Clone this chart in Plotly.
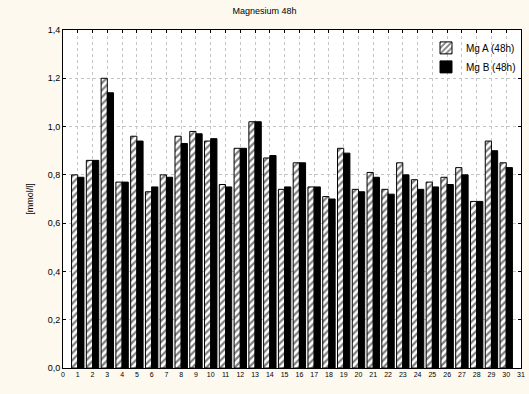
import plotly.graph_objects as go

# Magnesium concentration after 48h for samples 1..30, two methods
samples = list(range(1, 31))
mg_a = [0.80, 0.86, 1.20, 0.77, 0.96, 0.73, 0.80, 0.96, 0.98, 0.94,
        0.76, 0.91, 1.02, 0.87, 0.74, 0.85, 0.75, 0.71, 0.91, 0.74,
        0.81, 0.74, 0.85, 0.78, 0.77, 0.79, 0.83, 0.69, 0.94, 0.85]
mg_b = [0.79, 0.86, 1.14, 0.77, 0.94, 0.75, 0.79, 0.93, 0.97, 0.95,
        0.75, 0.91, 1.02, 0.88, 0.75, 0.85, 0.75, 0.70, 0.89, 0.73,
        0.79, 0.72, 0.80, 0.74, 0.75, 0.76, 0.80, 0.69, 0.90, 0.83]
series_names = ["Mg A (48h)", "Mg B (48h)"]
x_ticks = list(range(0, 32))
y_ticks = [0.0, 0.2, 0.4, 0.6, 0.8, 1.0, 1.2, 1.4]

FONT = "Arial, Liberation Sans, sans-serif"

fig = go.Figure()
fig.add_trace(go.Bar(
    x=samples, y=mg_a, name=series_names[0],
    marker=dict(color="white", line=dict(color="black", width=1),
                pattern=dict(shape="/", fgcolor="black", bgcolor="white",
                             size=5, solidity=0.45)),
))
fig.add_trace(go.Bar(
    x=samples, y=mg_b, name=series_names[1],
    marker=dict(color="black", line=dict(color="black", width=1)),
))

fig.update_layout(
    width=529, height=394,
    margin=dict(l=63, r=4, t=30, b=26),
    paper_bgcolor="#fdf9ef",
    plot_bgcolor="white",
    separators=",.",
    barmode="group", bargap=0.16, bargroupgap=0,
    font=dict(family=FONT, color="black"),
    title=dict(text="Magnesium 48h", x=0.5, xanchor="center", y=0.972,
               yanchor="middle", font=dict(size=9, family=FONT)),
    legend=dict(x=1.0, xanchor="right", y=0.99, yanchor="top",
                bgcolor="rgba(255,255,255,0)", borderwidth=0,
                font=dict(size=10, family=FONT), itemwidth=30,
                tracegroupgap=0),
    showlegend=True,
)
fig.update_xaxes(
    range=[0, 31], tickmode="array", tickvals=x_ticks,
    ticktext=[str(v) for v in x_ticks],
    tickfont=dict(size=7), ticks="inside", ticklen=3, tickcolor="black",
    showline=True, linecolor="black", linewidth=1, mirror="ticks",
    showgrid=True, gridcolor="#c4c4c4", griddash="dot", gridwidth=1,
    zeroline=False,
)
fig.update_yaxes(
    range=[0, 1.4], tickmode="array", tickvals=y_ticks, tickformat=".1f",
    tickfont=dict(size=9), ticks="inside", ticklen=3, tickcolor="black",
    showline=True, linecolor="black", linewidth=1, mirror="ticks",
    showgrid=True, gridcolor="#c4c4c4", griddash="dot", gridwidth=1,
    zeroline=False,
    title=dict(text="[mmol/l]", font=dict(size=9), standoff=12),
)

fig.write_html("out.html")
